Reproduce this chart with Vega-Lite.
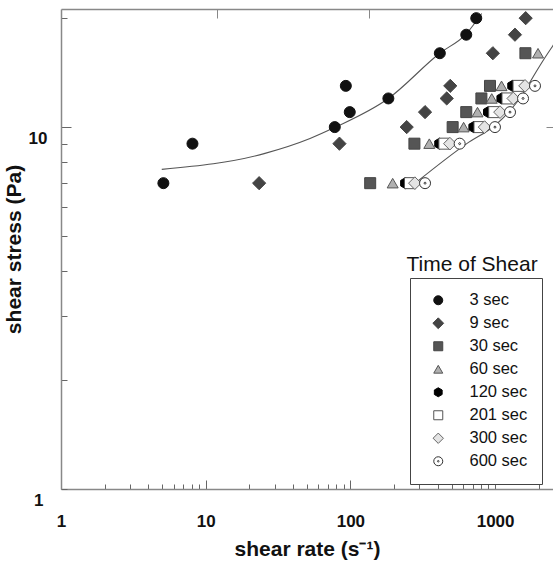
{
  "$schema": "https://vega.github.io/schema/vega-lite/v6.json",
  "width": 492,
  "height": 480,
  "autosize": "none",
  "padding": {"left": 61, "top": 9, "right": 0, "bottom": 77},
  "background": "white",
  "title": {"text": "Time of Shear", "orient": "top", "anchor": "start", "align": "center", "dx": 469, "dy": 283, "offset": 0, "baseline": "alphabetic", "fontSize": 21, "fontWeight": "normal", "font": "Liberation Sans", "color": "#111"},
  "datasets": {
    "pts": [
      {"x": 5.1, "y": 7.0, "t": "3 sec"}, {"x": 8.1, "y": 9.0, "t": "3 sec"}, {"x": 78, "y": 10, "t": "3 sec"}, {"x": 99, "y": 11, "t": "3 sec"}, {"x": 93, "y": 13, "t": "3 sec"}, {"x": 183, "y": 12, "t": "3 sec"}, {"x": 415, "y": 16, "t": "3 sec"}, {"x": 632, "y": 18, "t": "3 sec"}, {"x": 741, "y": 20, "t": "3 sec"},
      {"x": 23.4, "y": 7, "t": "9 sec"}, {"x": 84, "y": 9, "t": "9 sec"}, {"x": 245, "y": 10, "t": "9 sec"}, {"x": 328, "y": 11, "t": "9 sec"}, {"x": 463, "y": 12, "t": "9 sec"}, {"x": 490, "y": 13, "t": "9 sec"}, {"x": 965, "y": 16, "t": "9 sec"}, {"x": 1372, "y": 18, "t": "9 sec"}, {"x": 1627, "y": 20, "t": "9 sec"},
      {"x": 137, "y": 7, "t": "30 sec"}, {"x": 277, "y": 9, "t": "30 sec"}, {"x": 509, "y": 10, "t": "30 sec"}, {"x": 632, "y": 11, "t": "30 sec"}, {"x": 804, "y": 12, "t": "30 sec"}, {"x": 922, "y": 13, "t": "30 sec"}, {"x": 1620, "y": 16, "t": "30 sec"},
      {"x": 196, "y": 7, "t": "60 sec"}, {"x": 351, "y": 9, "t": "60 sec"}, {"x": 606, "y": 10, "t": "60 sec"}, {"x": 756, "y": 11, "t": "60 sec"}, {"x": 948, "y": 12, "t": "60 sec"}, {"x": 1108, "y": 13, "t": "60 sec"}, {"x": 1980, "y": 16, "t": "60 sec"},
      {"x": 240, "y": 7, "t": "120 sec"}, {"x": 413, "y": 9, "t": "120 sec"}, {"x": 711, "y": 10, "t": "120 sec"}, {"x": 897, "y": 11, "t": "120 sec"}, {"x": 1111, "y": 12, "t": "120 sec"}, {"x": 1320, "y": 13, "t": "120 sec"},
      {"x": 258, "y": 7, "t": "201 sec"}, {"x": 446, "y": 9, "t": "201 sec"}, {"x": 780, "y": 10, "t": "201 sec"}, {"x": 986, "y": 11, "t": "201 sec"}, {"x": 1218, "y": 12, "t": "201 sec"}, {"x": 1452, "y": 13, "t": "201 sec"},
      {"x": 279, "y": 7, "t": "300 sec"}, {"x": 487, "y": 9, "t": "300 sec"}, {"x": 846, "y": 10, "t": "300 sec"}, {"x": 1081, "y": 11, "t": "300 sec"}, {"x": 1336, "y": 12, "t": "300 sec"}, {"x": 1610, "y": 13, "t": "300 sec"},
      {"x": 328, "y": 7, "t": "600 sec"}, {"x": 569, "y": 9, "t": "600 sec"}, {"x": 998, "y": 10, "t": "600 sec"}, {"x": 1268, "y": 11, "t": "600 sec"}, {"x": 1560, "y": 12, "t": "600 sec"}, {"x": 1887, "y": 13, "t": "600 sec"}
    ],
    "fit": [
      {"x": 4.97, "y": 7.64, "c": "a", "o": 1}, {"x": 25.7, "y": 8.46, "c": "a", "o": 2}, {"x": 52.6, "y": 9.3, "c": "a", "o": 3}, {"x": 78.9, "y": 10, "c": "a", "o": 4}, {"x": 183, "y": 12, "c": "a", "o": 5}, {"x": 414, "y": 16, "c": "a", "o": 6}, {"x": 632, "y": 18.1, "c": "a", "o": 7}, {"x": 808, "y": 20.6, "c": "a", "o": 8},
      {"x": 287, "y": 7.05, "c": "b", "o": 1}, {"x": 637, "y": 9.0, "c": "b", "o": 2}, {"x": 1026, "y": 10.2, "c": "b", "o": 3}, {"x": 1268, "y": 11.1, "c": "b", "o": 4}, {"x": 1567, "y": 12.4, "c": "b", "o": 5}, {"x": 1837, "y": 13.8, "c": "b", "o": 6}, {"x": 2153, "y": 15.3, "c": "b", "o": 7}, {"x": 2513, "y": 16.8, "c": "b", "o": 8}, {"x": 3041, "y": 18.8, "c": "b", "o": 9}
    ]
  },
  "layer": [
    {
      "data": {"name": "fit"},
      "mark": {"type": "line", "color": "#555", "strokeWidth": 1.1, "interpolate": "monotone", "clip": true},
      "encoding": {
        "x": {"field": "x", "type": "quantitative", "scale": {"type": "log", "domain": [1, 2513], "nice": false},
          "axis": {"orient": "bottom", "title": "shear rate (s⁻¹)", "values": [1,2,3,4,5,6,7,8,9,10,20,30,40,50,60,70,80,90,100,200,300,400,500,600,700,800,900,1000,2000],
            "labelExpr": "datum.value == 1 || datum.value == 10 || datum.value == 100 || datum.value == 1000 ? format(datum.value, 'd') : ''",
            "tickSize": {"condition": {"test": "datum.value == 1 || datum.value == 10 || datum.value == 100 || datum.value == 1000", "value": -9}, "value": -5},
            "labelOverlap": false, "labelBound": false, "labelFlush": false,
            "labelFont": "Liberation Sans", "labelFontSize": 17, "labelFontWeight": "bold", "labelColor": "#111", "labelPadding": 33,
            "titleFont": "Liberation Sans", "titleFontSize": 21, "titleFontWeight": "bold", "titleColor": "#111", "titlePadding": 5,
            "domainColor": "#888", "domainWidth": 1.5, "tickColor": "#666", "tickWidth": 1, "grid": false}},
        "y": {"field": "y", "type": "quantitative", "scale": {"type": "log", "domain": [1, 21.2], "nice": false},
          "axis": {"orient": "left", "title": "shear stress (Pa)", "values": [1,2,3,4,5,6,7,8,9,10,20],
            "labelExpr": "datum.value == 1 || datum.value == 10 ? format(datum.value, 'd') : ''",
            "tickSize": {"condition": {"test": "datum.value == 10", "value": -10}, "value": -6},
            "labelOverlap": false, "labelBound": false, "labelFlush": false, "labelOffset": 11,
            "labelFont": "Liberation Sans", "labelFontSize": 17, "labelFontWeight": "bold", "labelColor": "#111", "labelPadding": 24,
            "titleFont": "Liberation Sans", "titleFontSize": 21, "titleFontWeight": "bold", "titleColor": "#111", "titlePadding": 4,
            "domainColor": "#888", "domainWidth": 1.5, "tickColor": "#666", "tickWidth": 1, "grid": false}},
        "detail": {"field": "c"},
        "order": {"field": "o", "type": "quantitative"}
      }
    },
    {
      "data": {"name": "pts"},
      "mark": {"type": "point", "filled": true, "size": 121, "strokeWidth": 1, "opacity": 1},
      "encoding": {
        "x": {"field": "x", "type": "quantitative", "scale": {"type": "log", "domain": [1, 2513], "nice": false},
          "axis": {"orient": "top", "title": null, "values": [11.9, 135], "labels": false, "tickSize": -9, "tickColor": "#888", "domainColor": "#888", "domainWidth": 1.5, "grid": false}},
        "y": {"field": "y", "type": "quantitative", "scale": {"type": "log", "domain": [1, 21.2], "nice": false},
          "axis": {"orient": "right", "title": null, "values": [10], "labels": false, "domain": false, "tickSize": -7, "tickColor": "#888", "grid": false}},
        "shape": {"field": "t", "type": "nominal",
          "scale": {"domain": ["3 sec","9 sec","30 sec","60 sec","120 sec","201 sec","300 sec","600 sec"],
            "range": ["circle","M0,-1.2L1.2,0L0,1.2L-1.2,0Z","square","triangle-up","M0,-1L0.866,-0.5L0.866,0.5L0,1L-0.866,0.5L-0.866,-0.5Z","square","M0,-1.15L1.15,0L0,1.15L-1.15,0Z","M-1,0A1,1,0,1,1,1,0A1,1,0,1,1,-1,0Z M0.18,0A0.18,0.18,0,1,0,-0.18,0A0.18,0.18,0,1,0,0.18,0Z"]},
          "legend": {"title": null, "orient": "none", "legendX": 349, "legendY": 269, "encode": {"labels": {"update": {"dy": {"value": 9}}}}}},
        "fill": {"field": "t", "type": "nominal",
          "scale": {"domain": ["3 sec","9 sec","30 sec","60 sec","120 sec","201 sec","300 sec","600 sec"],
            "range": ["#111","#444","#555","#b0b0b0","#000","#fff","#e4e4e4","#fff"]},
          "legend": {"title": null, "orient": "none", "legendX": 349, "legendY": 269, "encode": {"labels": {"update": {"dy": {"value": 9}}}}}},
        "stroke": {"field": "t", "type": "nominal",
          "scale": {"domain": ["3 sec","9 sec","30 sec","60 sec","120 sec","201 sec","300 sec","600 sec"],
            "range": ["#111","#444","#444","#555","#000","#555","#666","#333"]},
          "legend": {"title": null, "orient": "none", "legendX": 349, "legendY": 269, "encode": {"labels": {"update": {"dy": {"value": 9}}}}}}
      }
    }
  ],
  "resolve": {"axis": {"x": "independent", "y": "independent"}},
  "config": {
    "view": {"stroke": null},
    "font": "Liberation Sans",
    "legend": {"strokeColor": "#444", "fillColor": "white", "padding": 14, "symbolSize": 81, "symbolStrokeWidth": 1, "symbolOffset": 6, "labelOffset": 23, "labelFont": "Liberation Sans", "labelFontSize": 16.5, "labelColor": "#111", "labelBaseline": "middle", "rowPadding": 6, "labelLimit": 200}
  }
}
